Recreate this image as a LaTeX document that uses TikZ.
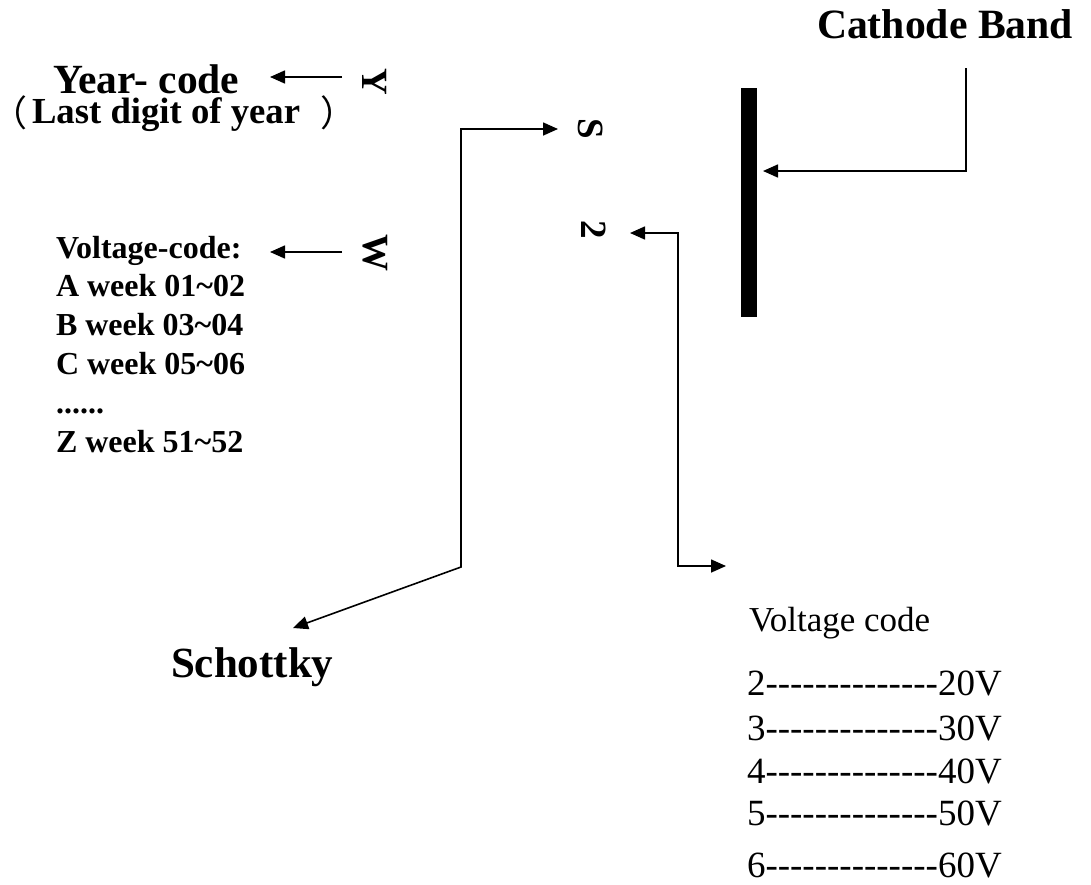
\documentclass[tikz,border=0pt]{standalone}
\usepackage{fontspec}
\setmainfont{Liberation Serif}
\newfontfamily\nolig{Liberation Serif}[Ligatures=TeXOff]
\newfontfamily\cjk{Noto Sans CJK SC}
\usetikzlibrary{arrows.meta}
\begin{document}
\begin{tikzpicture}[x=1pt,y=-1pt,
  lbl/.style={inner sep=0pt, outer sep=0pt, anchor=base west},
  wk/.style={lbl, font=\bfseries\fontsize{32}{38}\selectfont},
  row/.style={lbl, font=\nolig\fontsize{37}{44}\selectfont},
  rot/.style={inner sep=0pt, rotate=-90, font=\bfseries\fontsize{37}{44}\selectfont},
  conn/.style={line width=1.6pt, -{Triangle[length=15pt,width=13pt]}},
  conn2/.style={line width=1.6pt, {Triangle[length=15pt,width=13pt]}-{Triangle[length=15pt,width=13pt]}}]
\useasboundingbox (0,0) rectangle (1091,884);

% titles
\node[lbl, font=\bfseries\fontsize{41.7}{50}\selectfont] (cath) at (817,38) {Cathode Band};
\node[lbl, font=\bfseries\fontsize{41.5}{48}\selectfont] (year) at (53,93) {Year- code};
\node[lbl, font=\bfseries\fontsize{36.7}{44}\selectfont] (last) at (32,123) {Last digit of year};
\node[inner sep=0pt, font=\cjk\fontsize{36}{40}\selectfont] (lp) at (15,113) {\hspace*{-12pt}（};
\node[inner sep=0pt, font=\cjk\fontsize{36}{40}\selectfont] (rp) at (338,113) {）};

% week list
\node[wk] (w0) at (56,258.0) {Voltage-code:};
\node[wk] (w1) at (56,296.8) {A week 01\textasciitilde 02};
\node[wk] (w2) at (56,335.6) {B week 03\textasciitilde 04};
\node[wk] (w3) at (56,374.4) {C week 05\textasciitilde 06};
\node[wk] (w4) at (56,413.2) {{......}};
\node[wk] (w5) at (56,452.0) {Z week 51\textasciitilde 52};

% rotated marking letters
\node[rot] (Y) at (375,82) {Y};
\node[rot] (W) at (375,253) {W};
\node[rot] (S) at (591,129) {S};
\node[rot] (two) at (594,230) {2};

% cathode band
\node[fill=black, draw=none, inner sep=0pt, minimum width=16pt, minimum height=229pt] (band) at (749,202.5) {};

% Schottky
\node[lbl, font=\bfseries\fontsize{43}{50}\selectfont] (schottky) at (171,677) {Schottky};

% voltage code table
\node[lbl, font=\fontsize{35}{42}\selectfont] (vc) at (749,631) {Voltage code};
\node[row] (r2) at (747,695) {2--------------20V};
\node[row] (r3) at (747,740) {3--------------30V};
\node[row] (r4) at (747,783) {4--------------40V};
\node[row] (r5) at (747,825) {5--------------50V};
\node[row] (r6) at (747,877) {6--------------60V};

% connector coordinates
\coordinate (yA) at (342,77);   \coordinate (yB) at (270,77);
\coordinate (wA) at (342,252);  \coordinate (wB) at (270,252);
\coordinate (cbA) at (966,68);  \coordinate (cbB) at (763,171);
\coordinate (sTip) at (558,129); \coordinate (sKnee) at (461,567); \coordinate (schTip) at (293,628);
\coordinate (tTip) at (630,233); \coordinate (tKnee) at (678,566); \coordinate (vTip) at (726,566);

\draw[conn] (yA) -- (yB);
\draw[conn] (wA) -- (wB);
\draw[conn] (cbA) |- (cbB);
\draw[conn2] (schTip) -- (sKnee) |- (sTip);
\draw[conn2] (tTip) -| (tKnee) -- (vTip);
\end{tikzpicture}
\end{document}
